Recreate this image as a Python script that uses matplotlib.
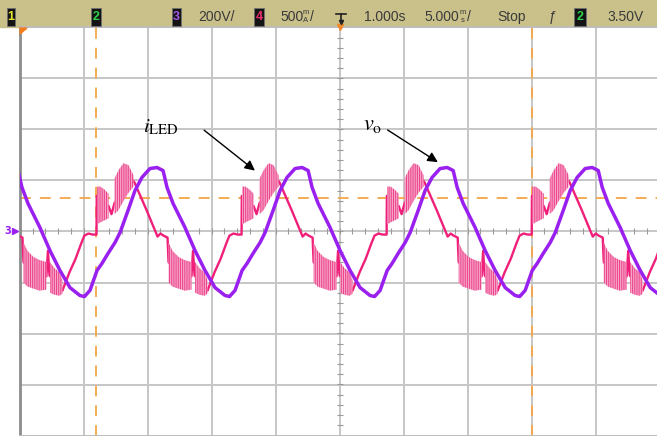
import numpy as np
import matplotlib
matplotlib.use('Agg')
import matplotlib.pyplot as plt
from matplotlib.patches import Rectangle, Polygon
from matplotlib.lines import Line2D

W, H = 657, 436

# scope settings
t_div = 5.0      # ms/div
v_div = 200.0    # V/div, channel 3 (v_o)
i_div = 0.5      # A/div, channel 4 (i_LED)
i_zero = -0.06   # ch4 ground position, div
period = 34.0 / 3            # ms
cursor_t = [6.0, 40.0]       # ms
trig_level = 0.65            # div

# one cycle of the output voltage (ms from the cursor edge, V)
vo_t = [-0.94, -0.51, 0.04, 0.43, 0.90, 1.45, 1.84, 2.46, 3.01, 3.55, 4.18,
        4.73, 5.20, 5.51, 5.98, 6.91, 7.70, 8.48, 9.26, 10.04, 10.39]
vo_v = [-255, -231, -153, -125, -86, -43, -4, 82, 161, 212, 247,
        251, 239, 173, 110, 16, -75, -153, -220, -251, -255]

# one cycle of the LED current (ms, A)
iled_t = [0.0, 0.02, 0.47, 0.94, 1.17, 1.41, 1.88, 2.34, 2.73, 2.97, 3.91,
          4.77, 5.00, 5.23, 5.55, 5.63, 6.25, 7.03, 7.42, 7.54, 7.66, 8.13,
          8.59, 8.67, 9.22, 9.69, 10.16, 10.39, 10.70, 11.02, 11.33]
iled_a = [0.0, 0.38, 0.28, 0.28, 0.20, 0.31, 0.38, 0.53, 0.55, 0.51, 0.24,
          -0.02, 0.01, -0.01, -0.03, -0.27, -0.37, -0.41, -0.41, -0.16, -0.40, -0.47,
          -0.53, -0.55, -0.37, -0.24, -0.08, -0.01, 0.01, 0.0, 0.0]

# switching ripple on the LED current: (ms, upper A, lower A)
ripple = [
    ([0.04, 0.31, 0.63, 0.94], [0.47, 0.47, 0.44, 0.40], [0.10, 0.12, 0.14, 0.16]),
    ([1.41, 1.72, 2.11, 2.50, 2.89], [0.55, 0.63, 0.70, 0.68, 0.58], [0.20, 0.24, 0.33, 0.41, 0.47]),
    ([5.63, 5.94, 6.41, 6.88, 7.42], [-0.08, -0.16, -0.22, -0.25, -0.27], [-0.47, -0.51, -0.53, -0.55, -0.54]),
    ([7.70, 8.05, 8.44, 8.67], [-0.27, -0.33, -0.37, -0.45], [-0.57, -0.59, -0.60, -0.58]),
]

purple = '#9a20f0'
pink = '#ef1f7a'
orange = '#f4a646'

plt.rcParams['hatch.linewidth'] = 0.7
plt.rcParams['mathtext.fontset'] = 'stix'


def fx(x):
    return x / W


def fy(y):
    return 1 - y / H


fig = plt.figure(figsize=(W / 100, H / 100), dpi=100)
ax = fig.add_axes([fx(19.7), 0.5 / H, 640 / W, 408 / H])
ax.set_xlim(0, 10 * t_div)
ax.set_ylim(-4, 4)
ax.set_xticks(np.arange(0, 10 * t_div + 1, t_div))
ax.set_yticks(np.arange(-4, 5, 1))
ax.tick_params(length=0, labelbottom=False, labelleft=False)
ax.grid(True, color='#c6c6c6', lw=1.4)
ax.set_axisbelow(True)
for s in ['top', 'right', 'bottom']:
    ax.spines[s].set_color('#bdbdbd')
    ax.spines[s].set_linewidth(1.3)
ax.spines['left'].set_color('#8c8c8c')
ax.spines['left'].set_linewidth(2)

# minor ticks along the centre lines
ax.plot(np.arange(0, 50, 1.0), np.zeros(50), ls='none', marker='|', ms=4,
        color='#9a9a9a', mew=0.8)
ax.plot(np.full(40, 25.0), np.arange(-4, 4, 0.2), ls='none', marker='_', ms=4,
        color='#9a9a9a', mew=0.8)

# cursors and trigger level
for ct in cursor_t:
    ax.axvline(ct, color=orange, lw=1.3, dashes=(6, 5))
ax.axhline(trig_level, color=orange, lw=1.3, dashes=(6, 5))

# traces
origins = cursor_t[0] + period * np.arange(-1, 4)
ix = np.concatenate([o + np.array(iled_t) for o in origins])
iy = np.tile(iled_a, len(origins)) / i_div + i_zero
ax.plot(ix, iy, color=pink, lw=1.7, zorder=3)
for o in origins:
    for bt, hi, lo in ripple:
        ax.fill_between(o + np.array(bt), np.array(hi) / i_div + i_zero,
                        np.array(lo) / i_div + i_zero, facecolor='#f8b6d3',
                        edgecolor='#ec4088', hatch='|' * 9, lw=0, zorder=3)

vx = np.concatenate([o + np.array(vo_t) for o in origins])
vy = np.tile(vo_v, len(origins)) / v_div
ax.plot(vx, vy, color=purple, lw=2.5, zorder=4, solid_joinstyle='round')

# labels
ax.text(11.0, 2.04, r'$i_{\mathrm{LED}}$', fontsize=15, ha='center', va='center')
ax.annotate('', xy=(18.55, 1.16), xytext=(14.24, 2.02),
            arrowprops=dict(arrowstyle='-|>', color='black', lw=1, mutation_scale=15))
ax.text(27.6, 2.08, r'$v_{\mathrm{o}}$', fontsize=16, ha='center', va='center')
ax.annotate('', xy=(32.85, 1.33), xytext=(28.56, 2.02),
            arrowprops=dict(arrowstyle='-|>', color='black', lw=1, mutation_scale=15))

# orange markers at top
ax.plot([25], [4], marker='v', ms=5, color='#f08a2a', clip_on=False, zorder=5)
fig.add_artist(Polygon([(fx(20), fy(28)), (fx(27), fy(28)), (fx(20), fy(34))],
                       closed=True, color='#f07d20', transform=fig.transFigure))

# channel 3 ground marker
fig.text(fx(8), fy(231), '3', color=purple, fontsize=7, fontweight='bold',
         ha='center', va='center')
fig.add_artist(Line2D([fx(15)], [fy(231)], marker='>', ms=4, color=purple,
                      transform=fig.transFigure))

# status bar
fig.add_artist(Rectangle((0, fy(27)), 1, 27 / H, color='#c9c08a',
                         transform=fig.transFigure, zorder=0))


def chan_box(x0, x1, digit, color):
    fig.add_artist(Rectangle((fx(x0), fy(26)), (x1 - x0) / W, 18 / H,
                             facecolor='#141414', edgecolor='#707070', lw=0.6,
                             transform=fig.transFigure))
    fig.text(fx((x0 + x1) / 2), fy(17), digit, color=color, fontsize=9,
             fontweight='bold', ha='center', va='center', family='Liberation Sans')


def bar_text(x, s, size=10):
    fig.text(fx(x), fy(17), s, color='#3a3a3a', fontsize=size, ha='left',
             va='center', family='Liberation Sans')


def stacked(x, top, bottom):
    fig.text(fx(x), fy(13), top, color='#3a3a3a', fontsize=5.5, ha='center',
             va='center', family='Liberation Sans')
    fig.text(fx(x), fy(21), bottom, color='#3a3a3a', fontsize=5.5, ha='center',
             va='center', family='Liberation Sans')


chan_box(7, 15, '1', '#e6e62e')
chan_box(91, 101, '2', '#2fd24a')
chan_box(172, 181, '3', '#a85ae8')
bar_text(198, '200V/')
chan_box(254, 264, '4', '#f0306e')
bar_text(280, '500')
stacked(306, 'm', 'A')
bar_text(310, '/')
# trigger edge icon
fig.add_artist(Line2D([fx(336), fx(346)], [fy(14), fy(14)], color='#222', lw=1.2,
                      transform=fig.transFigure))
fig.add_artist(Line2D([fx(341), fx(341)], [fy(14), fy(22)], color='#222', lw=1.2,
                      transform=fig.transFigure))
fig.add_artist(Line2D([fx(341)], [fy(22)], marker='v', ms=3, color='#222',
                      transform=fig.transFigure))
bar_text(364, '1.000s')
bar_text(424, '5.000')
stacked(463, 'm', 's')
bar_text(467, '/')
bar_text(497, 'Stop')
bar_text(549, '\u0192', size=10)
chan_box(574, 586, '2', '#2fd24a')
bar_text(607, '3.50V')

fig.savefig('out.png', dpi=100)
